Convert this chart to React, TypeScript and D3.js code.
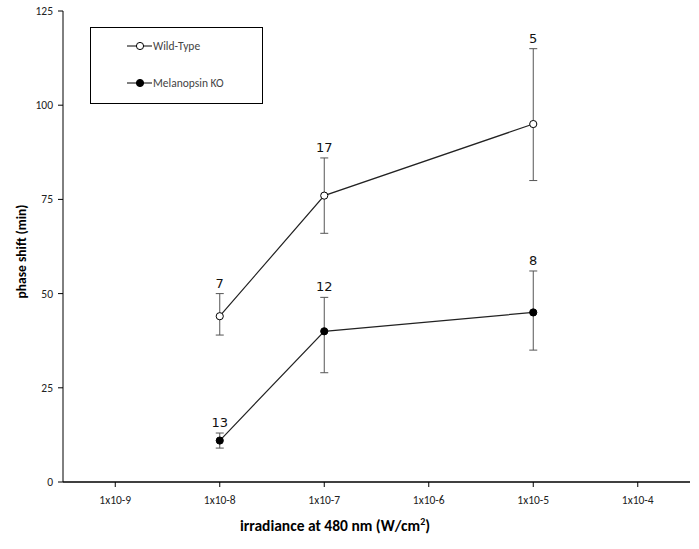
import React from "react";
import * as d3 from "d3";

const categories = ["1x10-9", "1x10-8", "1x10-7", "1x10-6", "1x10-5", "1x10-4"];
const yTicks = [0, 25, 50, 75, 100, 125];

const wtX = ["1x10-8", "1x10-7", "1x10-5"];
const wtMean = [44, 76, 95];
const wtLow = [39, 66, 80];
const wtHigh = [50, 86, 115];
const wtN = ["7", "17", "5"];

const koX = ["1x10-8", "1x10-7", "1x10-5"];
const koMean = [11, 40, 45];
const koLow = [9, 29, 35];
const koHigh = [13, 49, 56];
const koN = ["13", "12", "8"];

const W = 699, H = 549;
const left = 63, right = 690, top = 11, bottom = 482;

export default function App() {
  const x = d3.scaleBand<string>().domain(categories).range([left, right]);
  const cx = (c: string) => (x(c) as number) + x.bandwidth() / 2;
  const y = d3.scaleLinear().domain([0, 125]).range([bottom, top]);
  const line = d3.line<[number, number]>().x(d => d[0]).y(d => d[1]);
  const font = "Carlito, 'Liberation Sans', Arial, sans-serif";

  const series = [
    { xs: wtX, m: wtMean, lo: wtLow, hi: wtHigh, n: wtN, fill: "#fff" },
    { xs: koX, m: koMean, lo: koLow, hi: koHigh, n: koN, fill: "#000" },
  ];

  return (
    <svg width={W} height={H} style={{ position: "absolute", left: 0, top: 0, background: "#fff" }} fontFamily={font}>
      <rect width={W} height={H} fill="#fff" />
      <line x1={left} x2={left} y1={top} y2={bottom} stroke="#000" strokeWidth={1} />
      <line x1={left} x2={right} y1={bottom} y2={bottom} stroke="#000" strokeWidth={1.3} />
      {yTicks.map(t => (
        <g key={t}>
          <line x1={left - 5} x2={left} y1={y(t)} y2={y(t)} stroke="#000" />
          <text x={left - 10} y={y(t)} dy="0.35em" textAnchor="end" fontSize={11.5} fill="#222">{t}</text>
        </g>
      ))}
      {categories.map(c => (
        <g key={c}>
          <line x1={cx(c)} x2={cx(c)} y1={bottom} y2={bottom + 5} stroke="#000" />
          <text x={cx(c)} y={bottom + 22} textAnchor="middle" fontSize={11.5} fill="#222">{c}</text>
        </g>
      ))}
      <text transform={`translate(26,${(top + bottom) / 2 + 5}) rotate(-90)`} textAnchor="middle" fontSize={13.5} fontWeight="bold">phase shift (min)</text>
      <text x={335} y={531} textAnchor="middle" fontSize={15.5} fontWeight="bold">
        irradiance at 480 nm (W/cm<tspan dy={-6} fontSize={10}>2</tspan><tspan dy={6}>)</tspan>
      </text>
      {series.map((s, si) => (
        <g key={si}>
          <path d={line(s.xs.map((c, i) => [cx(c), y(s.m[i])]) as [number, number][]) || ""} fill="none" stroke="#222" strokeWidth={1.2} />
          {s.xs.map((c, i) => (
            <g key={c}>
              <line x1={cx(c)} x2={cx(c)} y1={y(s.lo[i])} y2={y(s.hi[i])} stroke="#555" strokeWidth={1} />
              <line x1={cx(c) - 4} x2={cx(c) + 4} y1={y(s.lo[i])} y2={y(s.lo[i])} stroke="#555" />
              <line x1={cx(c) - 4} x2={cx(c) + 4} y1={y(s.hi[i])} y2={y(s.hi[i])} stroke="#555" />
              <circle cx={cx(c)} cy={y(s.m[i])} r={3.6} fill={s.fill} stroke="#000" strokeWidth={1} />
              <text x={cx(c)} y={y(s.hi[i]) - 6} textAnchor="middle" fontSize={13} fill="#111" fontFamily="'DejaVu Sans', sans-serif">{s.n[i]}</text>
            </g>
          ))}
        </g>
      ))}
      <rect x={90.5} y={27.5} width={172} height={76} fill="#fff" stroke="#000" />
      {[{ label: "Wild-Type", fill: "#fff", yy: 46 }, { label: "Melanopsin KO", fill: "#000", yy: 83 }].map(l => (
        <g key={l.label}>
          <line x1={127} x2={152} y1={l.yy} y2={l.yy} stroke="#000" />
          <circle cx={140} cy={l.yy} r={3.6} fill={l.fill} stroke="#000" />
          <text x={153} y={l.yy} dy="0.35em" fontSize={11.5} fill="#444">{l.label}</text>
        </g>
      ))}
    </svg>
  );
}
